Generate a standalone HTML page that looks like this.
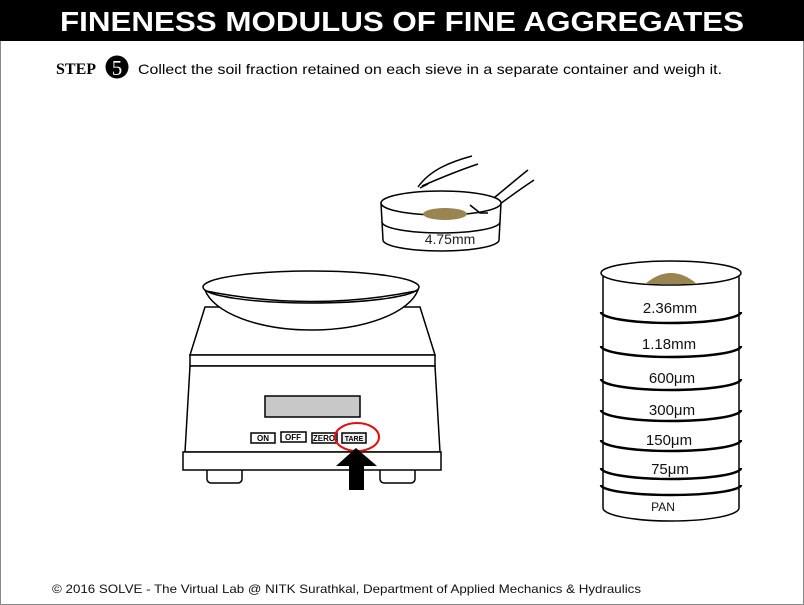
<!DOCTYPE html>
<html><head><meta charset="utf-8"><style>
body{margin:0;background:#fff}
svg{display:block}
</style></head><body>
<svg width="804" height="605" viewBox="0 0 804 605" xmlns="http://www.w3.org/2000/svg" font-family="Liberation Sans, sans-serif">
<rect x="0.5" y="0.5" width="803" height="604" fill="#fff" stroke="#888"/>
<rect x="0" y="0" width="804" height="41" fill="#000"/>
<text x="60" y="31" textLength="684" lengthAdjust="spacingAndGlyphs" fill="#fff" font-size="28" font-weight="bold">FINENESS MODULUS OF FINE AGGREGATES</text>
<text x="56" y="74" font-family="Liberation Serif, serif" font-weight="bold" font-size="16">STEP</text>
<circle cx="117" cy="67" r="11.5" fill="#000"/>
<text x="117" y="75" text-anchor="middle" fill="#fff" font-family="Liberation Serif, serif" font-size="21">5</text>
<text x="138" y="74" font-size="14" textLength="584" lengthAdjust="spacingAndGlyphs">Collect the soil fraction retained on each sieve in a separate container and weigh it.</text>

<g stroke="#000" stroke-width="1.5" fill="#fff">
<path d="M418,187 C430,170 450,162 472,156 M422,186 C445,176 460,170 478,164" fill="none"/>
<path d="M476,212 C495,198 515,180 528,170 M484,216 C505,200 522,188 534,180" fill="none"/>
<path d="M381,203 L383,240 A58,11 0 0 0 499,240 L501,203" />
<ellipse cx="441" cy="203" rx="60" ry="12"/>
<path d="M382,222 A59,11 0 0 0 500,222" fill="none"/>
<ellipse cx="445" cy="214" rx="22" ry="6" fill="#9a8450" stroke="none"/>
<path d="M470,205 l10,8 l8,0 M420,188 l8,-4" fill="none"/>
<text x="450" y="244" text-anchor="middle" font-size="14" fill="#222" stroke="none">4.75mm</text>
</g>

<g stroke="#000" stroke-width="1.5" fill="#fff">
<rect x="207" y="466" width="35" height="17" rx="4"/>
<rect x="380" y="466" width="35" height="17" rx="4"/>
<path d="M205,307 L420,307 L435,355 L190,355 Z"/>
<rect x="190" y="355" width="245" height="11"/>
<path d="M190,366 L435,366 L440,452 L185,452 Z"/>
<rect x="183" y="452" width="258" height="18"/>
<path d="M205,290 A108,48 0 0 0 418,290 Z"/>
<ellipse cx="311" cy="287" rx="108" ry="16"/>
<path d="M206,291 Q311,312 416,291" fill="none"/>
<rect x="265" y="396" width="95" height="21" fill="#c8c8c8"/>
</g>
<g font-size="8" font-weight="bold" text-anchor="middle" stroke-width="1.5">
<rect x="251" y="433" width="24" height="10" fill="#fff" stroke="#000"/><text x="263" y="441">ON</text>
<rect x="281" y="432" width="25" height="10" fill="#fff" stroke="#000"/><text x="293" y="440">OFF</text>
<rect x="312" y="433" width="25" height="10" fill="#fff" stroke="#000"/><text x="324" y="441">ZERO</text>
<rect x="342" y="433" width="24" height="10" fill="#eee" stroke="#000"/><text x="354" y="441" font-size="7">TARE</text>
</g>
<ellipse cx="357" cy="437" rx="22" ry="14" fill="none" stroke="#e01010" stroke-width="2"/>
<path d="M356,448 L377,466 L364,466 L364,490 L349,490 L349,466 L336,466 Z" fill="#000"/>

<g stroke="#000" stroke-width="1.5" fill="#fff">
<path d="M603,273 L603,508 A68,13 0 0 0 739,508 L739,273 Z"/>
<ellipse cx="671" cy="273" rx="70" ry="12"/>
<path d="M645,284 Q671,262 697,284 Z" fill="#9a8450" stroke="none"/>
<g fill="none" stroke-width="2.5">
<path d="M601,312 A70,11 0 0 0 741,312"/>
<path d="M601,346 A70,11 0 0 0 741,346"/>
<path d="M601,379 A70,11 0 0 0 741,379"/>
<path d="M601,410 A70,11 0 0 0 741,410"/>
<path d="M601,440 A70,11 0 0 0 741,440"/>
<path d="M601,468 A70,11 0 0 0 741,468"/>
<path d="M601,485 A70,10 0 0 0 741,485"/>
</g>
<g stroke="none" fill="#111" font-size="15" text-anchor="middle">
<text x="670" y="313">2.36mm</text>
<text x="669" y="349">1.18mm</text>
<text x="672" y="383">600μm</text>
<text x="672" y="415">300μm</text>
<text x="669" y="445">150μm</text>
<text x="670" y="474">75μm</text>
<text x="663" y="511" font-size="12">PAN</text>
</g>
</g>

<text x="52" y="593" font-size="12" textLength="589" lengthAdjust="spacingAndGlyphs" fill="#111">© 2016 SOLVE - The Virtual Lab @ NITK Surathkal, Department of Applied Mechanics &amp; Hydraulics</text>
</svg>
</body></html>
